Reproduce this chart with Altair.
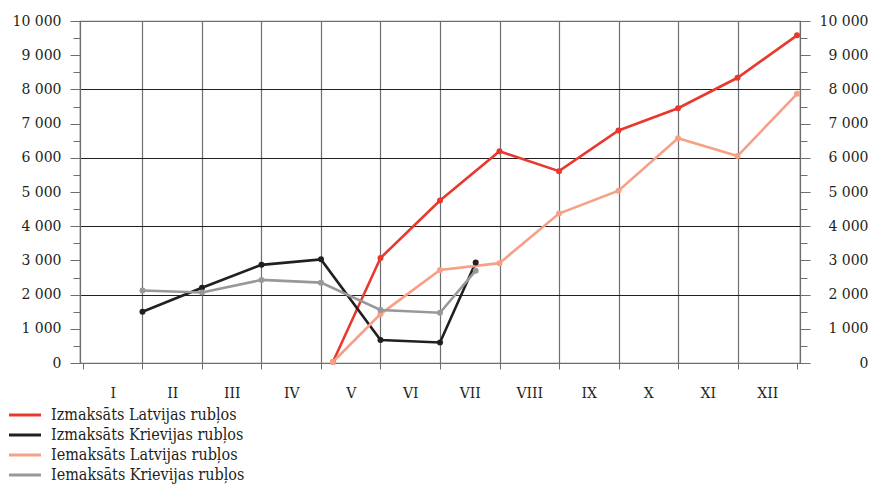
import altair as alt
import pandas as pd

months = ["I", "II", "III", "IV", "V", "VI", "VII", "VIII", "IX", "X", "XI", "XII"]
series_names = [
    "Izmaksāts Latvijas rubļos",
    "Izmaksāts Krievijas rubļos",
    "Iemaksāts Latvijas rubļos",
    "Iemaksāts Krievijas rubļos",
]
colors = ["#e8392e", "#231f20", "#f7a088", "#97989a"]

izm_lv_x = [4.2, 5, 6, 7, 8, 9, 10, 11, 12]
izm_lv_y = [30, 3070, 4750, 6190, 5610, 6800, 7450, 8340, 9580]
izm_kr_x = [1, 2, 3, 4, 5, 6, 6.6]
izm_kr_y = [1500, 2200, 2870, 3030, 670, 600, 2940]
iem_lv_x = [4.2, 5, 6, 7, 8, 9, 10, 11, 12]
iem_lv_y = [30, 1430, 2720, 2920, 4370, 5040, 6570, 6050, 7870]
iem_kr_x = [1, 2, 3, 4, 5, 6, 6.6]
iem_kr_y = [2120, 2060, 2430, 2350, 1550, 1470, 2700]

rows = []
for name, xs, ys in zip(series_names,
                        [izm_lv_x, izm_kr_x, iem_lv_x, iem_kr_x],
                        [izm_lv_y, izm_kr_y, iem_lv_y, iem_kr_y]):
    for i, (x, y) in enumerate(zip(xs, ys)):
        rows.append({"series": name, "m": x, "v": y, "ord": i})
df = pd.DataFrame(rows)

FONT = "DejaVu Serif"
LFONT = "DejaVu Serif Condensed"
TXT = "#231f20"
FRAME = "#6d6e71"
months_str = ",".join(months)

x_axis = alt.Axis(
    values=[i * 0.5 for i in range(25)],
    labelExpr="(datum.value * 2) % 2 == 1 ? split('" + months_str + "', ',')[floor(datum.value)] : ''",
    tickOpacity={"condition": {"test": "datum.value % 1 == 0", "value": 1}, "value": 0},
    grid=True,
    gridOpacity={"condition": {"test": "datum.value % 1 == 0 && datum.value > 0 && datum.value < 12", "value": 1}, "value": 0},
    gridColor=FRAME, gridWidth=1.2,
    tickSize=6, tickColor=FRAME, domainColor=FRAME, domainWidth=1.2,
    labelFont=FONT, labelFontSize=14, labelColor=TXT, labelPadding=17,
    labelOverlap=False, labelFlush=False, labelAngle=0, title=None,
)

y_values = list(range(0, 10001, 500))
y_label = "datum.value % 1000 == 0 ? replace(format(datum.value, ','), ',', ' ') : ''"
y_tick = {"condition": {"test": "datum.value % 1000 == 0", "value": 10}, "value": 7}

y_left = alt.Axis(
    orient="left", values=y_values, labelExpr=y_label, tickSize=y_tick,
    grid=True,
    gridOpacity={"condition": {"test": "datum.value % 2000 == 0 && datum.value > 0 && datum.value < 10000", "value": 1}, "value": 0},
    gridColor=TXT, gridWidth=1.2,
    tickColor=FRAME, domainColor=FRAME, domainWidth=1.2,
    labelFont=FONT, labelFontSize=14, labelColor=TXT, labelPadding=9,
    labelOverlap=False, title=None,
)
y_right = alt.Axis(
    orient="right", values=y_values, labelExpr=y_label, tickSize=y_tick,
    grid=False,
    tickColor=FRAME, domainColor=FRAME, domainWidth=1.2,
    labelFont=FONT, labelFontSize=14, labelColor=TXT, labelPadding=58, labelAlign="right",
    labelOverlap=False, title=None,
)

x_scale = alt.Scale(domain=[-0.05, 12.05], nice=False, zero=False)
y_scale = alt.Scale(domain=[0, 10000], nice=False)
color_scale = alt.Scale(domain=series_names, range=colors)

legend = alt.Legend(
    orient="none", legendX=-63, legendY=386, direction="vertical", title=None,
    symbolType="M-4,0H4", symbolSize=64, symbolStrokeWidth=3,
    labelFont=LFONT, labelFontSize=16, labelColor=TXT, labelOffset=18,
    rowPadding=4, padding=0, labelLimit=400,
)

lines = alt.Chart(df).mark_line(strokeWidth=2.6).encode(
    x=alt.X("m:Q", scale=x_scale, axis=x_axis),
    y=alt.Y("v:Q", scale=y_scale, axis=y_left),
    color=alt.Color("series:N", scale=color_scale, legend=legend),
    order="ord:Q",
)
points = alt.Chart(df).mark_circle(size=36, opacity=1).encode(
    x=alt.X("m:Q", scale=x_scale, axis=x_axis),
    y=alt.Y("v:Q", scale=y_scale, axis=y_right),
    color=alt.Color("series:N", scale=color_scale, legend=None),
)

chart = alt.layer(lines, points).resolve_axis(y="independent").resolve_scale(y="shared").properties(
    width=720, height=342,
    autosize=alt.AutoSizeParams(type="none"),
    padding={"left": 72, "top": 13, "right": 69, "bottom": 123},
    background="white",
).configure_view(stroke=FRAME, strokeWidth=1.2)

chart.save("out.html", embed_options={"renderer": "svg", "actions": False})
